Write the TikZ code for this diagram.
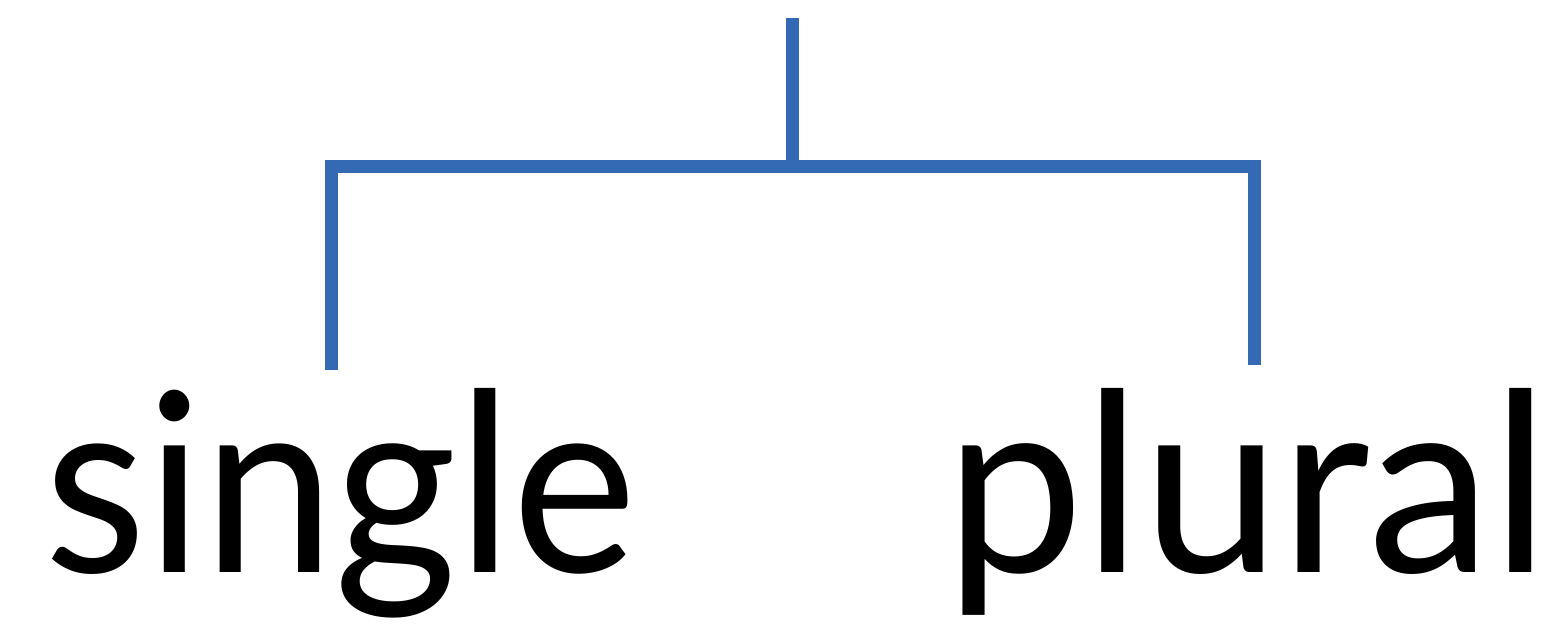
\documentclass[tikz,border=0pt]{standalone}
\usepackage{fontspec}
\setmainfont{Lato}
\definecolor{linkblue}{HTML}{3469B3}
\begin{document}
\begin{tikzpicture}[x=1pt,y=-1pt,
  conn/.style={draw=linkblue,line width=13pt,line cap=butt,line join=miter},
  word/.style={inner sep=0pt,outer sep=0pt,font=\fontsize{250}{250}\selectfont}]
\useasboundingbox (0,0) rectangle (1563,632);
\coordinate (top) at (792,18);
\coordinate (junc) at (792,166);
\coordinate (lend) at (331,370);
\coordinate (rend) at (1254,365);
\node[word,anchor=base west] (single) at (44.5,572) {\scalebox{0.943}[1]{single}};
\node[word,anchor=base west] (plural) at (945,572) {\scalebox{0.99}[1]{plural}};
\draw[conn] (top) -- (junc);
\draw[conn] (lend) |- (junc) -| (rend);
\end{tikzpicture}
\end{document}
